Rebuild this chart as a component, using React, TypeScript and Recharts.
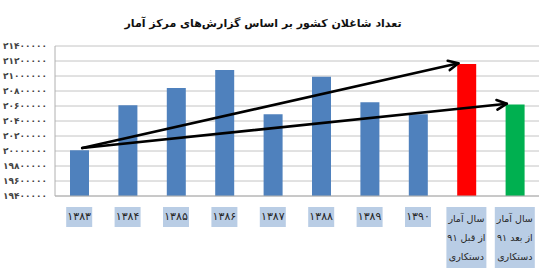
import React from 'react';
import { BarChart, Bar, XAxis, YAxis, CartesianGrid, Cell, ReferenceLine } from 'recharts';

const categories = [
  '۱۳۸۳',
  '۱۳۸۴',
  '۱۳۸۵',
  '۱۳۸۶',
  '۱۳۸۷',
  '۱۳۸۸',
  '۱۳۸۹',
  '۱۳۹۰',
  'آمار سال|۹۱ قبل از|دستکاری',
  'آمار سال|۹۱ بعد از|دستکاری',
];

const employed = [20010000, 20610000, 20840000, 21080000, 20490000, 20990000, 20650000, 20490000, 21160000, 20620000];

const yTicks = [19400000, 19600000, 19800000, 20000000, 20200000, 20400000, 20600000, 20800000, 21000000, 21200000, 21400000];

// arrows drawn over the bars: from the 1383 bar to the two 1391 bars
const arrowStart = { x: '۱۳۸۳', y: 20040000 };
const arrowEnds = [
  { x: 'آمار سال|۹۱ قبل از|دستکاری', y: 21170000 },
  { x: 'آمار سال|۹۱ بعد از|دستکاری', y: 20630000 },
];

const barColors = ['#4f81bd', '#4f81bd', '#4f81bd', '#4f81bd', '#4f81bd', '#4f81bd', '#4f81bd', '#4f81bd', '#ff0000', '#00b050'];

const data = categories.map((name, i) => ({ name, value: employed[i] }));

const faDigits = '۰۱۲۳۴۵۶۷۸۹';
const toFa = (n: number) => String(n).replace(/[0-9]/g, (d) => faDigits[Number(d)]);

const XTick = (props: any) => {
  const { x, y, payload } = props;
  const lines: string[] = String(payload.value).split('|');
  const multi = lines.length > 1;
  const w = multi ? 40 : 26;
  const h = multi ? 61 : 20;
  return (
    <g>
      <rect x={x - w / 2} y={y + 3} width={w} height={h} fill="#b9cde5" />
      <foreignObject x={x - 30} y={y + 3} width={60} height={h}>
        <div
          style={{
            display: 'flex',
            flexDirection: 'column',
            alignItems: 'center',
            fontFamily: 'DejaVu Sans',
            fontSize: multi ? 9.5 : 11,
            color: '#262626',
            lineHeight: multi ? '19px' : '20px',
            paddingTop: multi ? 2 : 0,
          }}
        >
          {lines.map((line, i) => (
            // the source image lays the words out left to right
            <div key={i} style={{ display: 'flex', gap: 3, direction: 'ltr' }}>
              {line.split(' ').map((word, j) => (
                <span key={j}>{word}</span>
              ))}
            </div>
          ))}
        </div>
      </foreignObject>
    </g>
  );
};

const Arrow = (props: any) => {
  const { x1, y1, x2, y2 } = props;
  // stop the tip at the left edge of the target bar
  const ex = x2 - 8;
  const ang = Math.atan2(y2 - y1, ex - x1);
  const len = 11;
  const a1 = ang + Math.PI - 0.45;
  const a2 = ang + Math.PI + 0.45;
  return (
    <g stroke="#000" strokeWidth={2.6} fill="none" strokeLinecap="round" strokeLinejoin="round">
      <line x1={x1 + 3} y1={y1} x2={ex} y2={y2} />
      <polyline
        points={`${ex + len * Math.cos(a1)},${y2 + len * Math.sin(a1)} ${ex},${y2} ${ex + len * Math.cos(a2)},${y2 + len * Math.sin(a2)}`}
      />
    </g>
  );
};

export default function App() {
  return (
    <div style={{ position: 'absolute', left: 0, top: 0, width: 548, height: 277, background: '#fff' }}>
      <div
        style={{
          position: 'absolute',
          left: 0,
          width: 526,
          top: 17,
          textAlign: 'center',
          direction: 'rtl',
          fontFamily: 'DejaVu Sans',
          fontWeight: 'bold',
          fontSize: 11,
          color: '#111',
        }}
      >
        تعداد شاغلان کشور بر اساس گزارش‌های مرکز آمار
      </div>
      <BarChart width={548} height={277} data={data} margin={{ top: 46, right: 9, bottom: 0, left: 0 }}>
        <CartesianGrid vertical={false} stroke="#c4c4c4" />
        <XAxis
          dataKey="name"
          height={81}
          interval={0}
          tickLine={false}
          axisLine={{ stroke: '#b0b0b0' }}
          tick={<XTick />}
        />
        <YAxis
          width={55}
          domain={[19400000, 21400000]}
          ticks={yTicks}
          interval={0}
          tickLine={false}
          axisLine={{ stroke: '#b0b0b0' }}
          tickFormatter={toFa}
          tick={{ fontSize: 9, fill: '#444', fontWeight: 'bold', fontFamily: 'DejaVu Sans' }}
        />
        <Bar dataKey="value" barSize={19} isAnimationActive={false}>
          {data.map((d, i) => (
            <Cell key={d.name} fill={barColors[i]} />
          ))}
        </Bar>
        {arrowEnds.map((end) => (
          <ReferenceLine key={end.x} segment={[arrowStart, end]} shape={<Arrow />} ifOverflow="visible" />
        ))}
      </BarChart>
    </div>
  );
}
